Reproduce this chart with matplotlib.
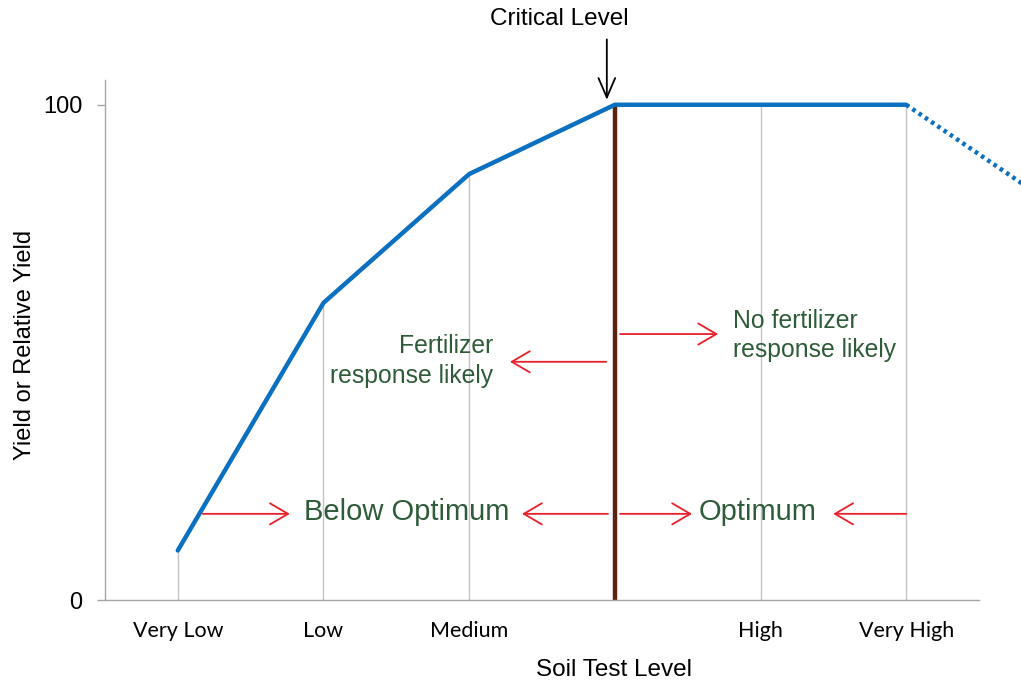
import matplotlib.pyplot as plt

# soil test categories (position 4 is the critical level, unlabelled)
levels = [1, 2, 3, 4, 5, 6]
level_labels = ['Very Low', 'Low', 'Medium', '', 'High', 'Very High']
yield_pct = [10, 60, 86, 100, 100, 100]

# dotted tail past "Very High"
tail_x = [6, 7]
tail_y = [100, 80]

critical_x = 4

blue = '#0a70bf'
green = '#2f5c38'
red = '#e8202a'
brown = '#5e2212'
gray = '#a6a6a6'

fig = plt.figure(figsize=(10.21, 6.83), dpi=100)
ax = fig.add_axes([0.1028, 0.1215, 0.8561, 0.7614])

# drop lines from the curve to the axis
drop = [(x, y) for x, y in zip(levels, yield_pct) if x != critical_x]
ax.vlines([d[0] for d in drop], 0, [d[1] for d in drop], color='#c4c4c4', lw=1, zorder=1)

ax.vlines(critical_x, 0, 100, color=brown, lw=3.2, zorder=2)
ax.plot(levels, yield_pct, color=blue, lw=3.2, solid_capstyle='round', zorder=3)
ax.plot(tail_x, tail_y, color=blue, lw=3.2, ls=(0, (0.8, 0.9)), clip_on=False, zorder=3)

ax.set_xlim(0.5, 6.5)
ax.set_ylim(0, 105)
ax.set_xticks(levels)
ax.set_xticklabels(level_labels, family='Lato', fontsize=15.5)
ax.tick_params(axis='x', length=0, pad=15)
ax.set_yticks([0, 100])
ax.set_yticklabels(['0', '100'], family='Liberation Sans', fontsize=17)
ax.tick_params(axis='y', length=6, color=gray, width=1, pad=10)

for side in ('top', 'right'):
    ax.spines[side].set_visible(False)
for side in ('left', 'bottom'):
    ax.spines[side].set_color(gray)
    ax.spines[side].set_linewidth(1)

ax.set_xlabel('Soil Test Level', family='Liberation Sans', fontsize=17.5)
ax.xaxis.set_label_coords(0.582, -0.113)
ax.set_ylabel('Yield or Relative Yield', family='Liberation Sans', fontsize=17)
ax.yaxis.set_label_coords(-0.079, 0.49)

# critical level marker
ax.text(3.62, 117.3, 'Critical Level', family='Liberation Sans', fontsize=17.5,
        ha='center', va='center', clip_on=False)
ax.annotate('', xy=(3.945, 101), xytext=(3.945, 113.2),
            arrowprops=dict(arrowstyle='->,head_length=0.7,head_width=0.3', color='black', lw=1.3,
                            mutation_scale=20, shrinkA=0, shrinkB=0),
            annotation_clip=False)

# red range arrows
red_arrows = [
    ((1.172, 17.4), (1.769, 17.4)),
    ((3.953, 17.4), (3.363, 17.4)),
    ((4.036, 17.4), (4.53, 17.4)),
    ((6.0, 17.4), (5.499, 17.4)),
    ((3.94, 48.1), (3.28, 48.1)),
    ((4.036, 53.7), (4.709, 53.7)),
]
for start, end in red_arrows:
    ax.annotate('', xy=end, xytext=start,
                arrowprops=dict(arrowstyle='->,head_length=0.65,head_width=0.38', color=red, lw=1.3,
                                mutation_scale=20, shrinkA=0, shrinkB=0))

ax.text(2.573, 17.8, 'Below Optimum', family='Liberation Sans', fontsize=21,
        color=green, ha='center', va='center')
ax.text(4.977, 17.8, 'Optimum', family='Liberation Sans', fontsize=21,
        color=green, ha='center', va='center')
ax.text(3.163, 48.2, 'Fertilizer\nresponse likely', family='Liberation Sans', fontsize=17.8,
        color=green, ha='right', va='center', multialignment='right', linespacing=1.3)
ax.text(4.812, 53.4, 'No fertilizer\nresponse likely', family='Liberation Sans', fontsize=17.8,
        color=green, ha='left', va='center', multialignment='left', linespacing=1.3)

fig.savefig('out.png', dpi=100)
